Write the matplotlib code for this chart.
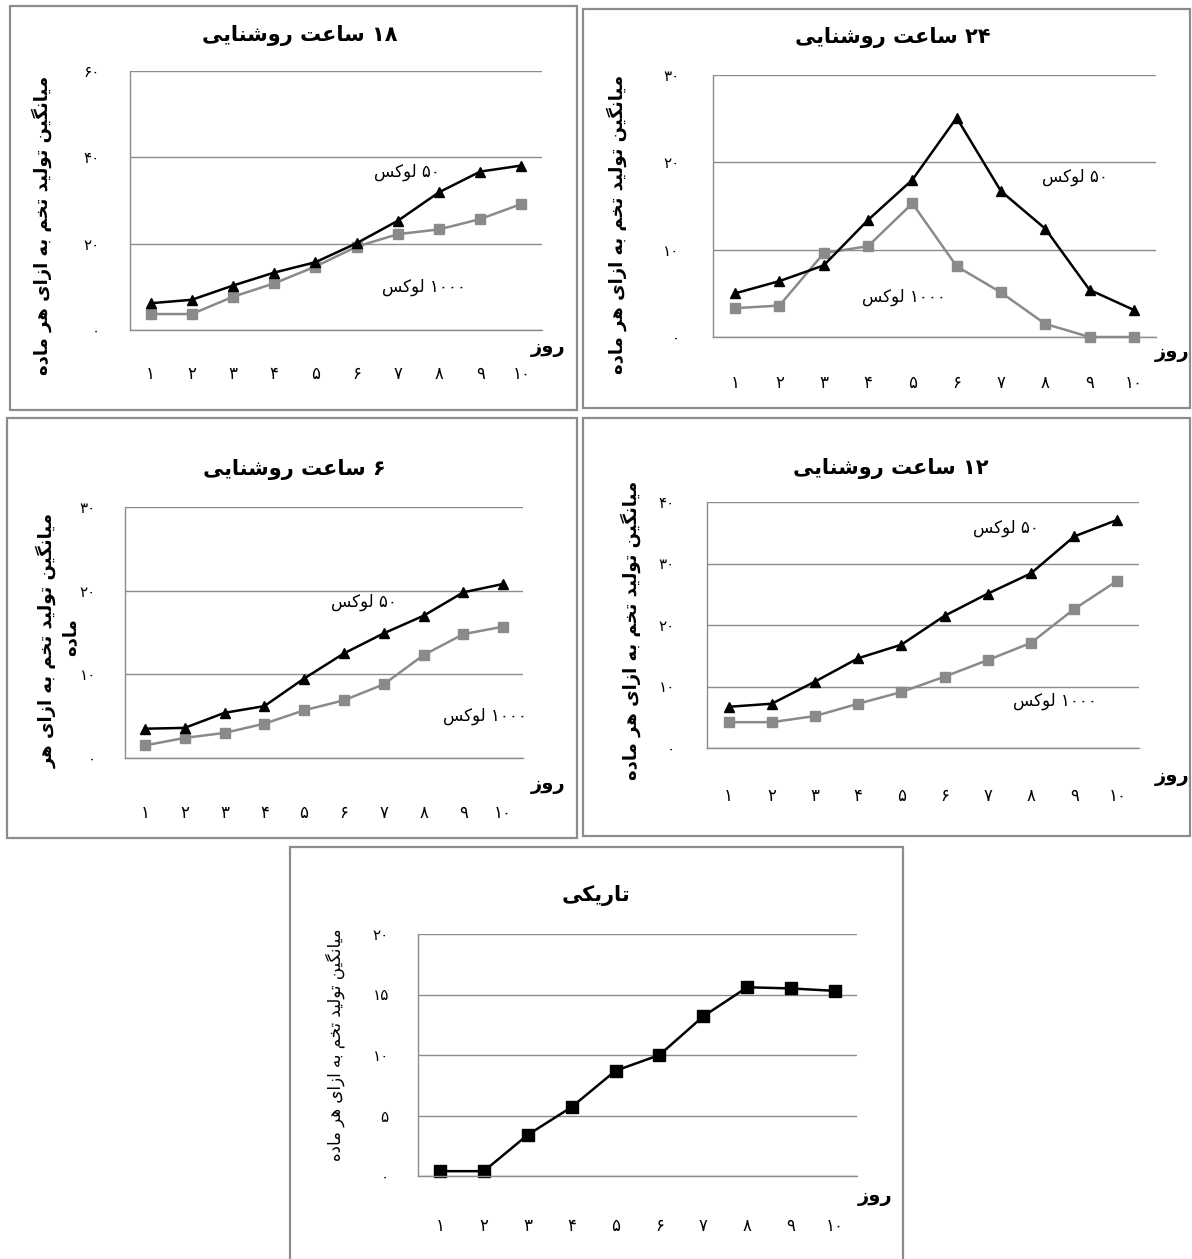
import matplotlib
matplotlib.use("Agg")
import matplotlib.pyplot as plt
from matplotlib.patches import Rectangle

plt.rcParams['font.family'] = ['DejaVu Sans']

# data
days = [1, 2, 3, 4, 5, 6, 7, 8, 9, 10]
day_labels = ['۱', '۲', '۳', '۴', '۵', '۶', '۷', '۸', '۹', '۱۰']

h18_50 = [6.2, 7.0, 10.3, 13.3, 15.7, 20.1, 25.3, 31.9, 36.7, 38.1]
h18_1000 = [3.7, 3.7, 7.7, 10.8, 14.7, 19.3, 22.2, 23.3, 25.7, 29.2]
h24_50 = [5.0, 6.4, 8.2, 13.4, 18.0, 25.1, 16.7, 12.4, 5.4, 3.1]
h24_1000 = [3.3, 3.6, 9.6, 10.4, 15.3, 8.1, 5.1, 1.5, 0.0, 0.0]
h6_50 = [3.5, 3.6, 5.4, 6.2, 9.5, 12.5, 14.9, 17.0, 19.8, 20.8]
h6_1000 = [1.5, 2.4, 3.0, 4.1, 5.7, 6.9, 8.8, 12.3, 14.8, 15.7]
h12_50 = [6.7, 7.2, 10.8, 14.6, 16.8, 21.5, 25.1, 28.4, 34.4, 37.1]
h12_1000 = [4.2, 4.2, 5.2, 7.2, 9.1, 11.6, 14.3, 17.1, 22.6, 27.2]
dark = [0.4, 0.4, 3.4, 5.7, 8.7, 10.0, 13.2, 15.6, 15.5, 15.3]

ylabel = 'میانگین تولید تخم به ازای هر ماده'
xlabel = 'روز'
lux50 = '۵۰ لوکس'
lux1000 = '۱۰۰۰ لوکس'

# --- tiny arabic shaper (matplotlib has no shaping / bidi) ---
# isolated, final, initial, medial
FORMS = {
    'ا': ('\uFE8D', '\uFE8E', None, None),
    'ب': ('\uFE8F', '\uFE90', '\uFE91', '\uFE92'),
    'ت': ('\uFE95', '\uFE96', '\uFE97', '\uFE98'),
    'خ': ('\uFEA5', '\uFEA6', '\uFEA7', '\uFEA8'),
    'د': ('\uFEA9', '\uFEAA', None, None),
    'ر': ('\uFEAD', '\uFEAE', None, None),
    'ز': ('\uFEAF', '\uFEB0', None, None),
    'س': ('\uFEB1', '\uFEB2', '\uFEB3', '\uFEB4'),
    'ش': ('\uFEB5', '\uFEB6', '\uFEB7', '\uFEB8'),
    'ع': ('\uFEC9', '\uFECA', '\uFECB', '\uFECC'),
    'ل': ('\uFEDD', '\uFEDE', '\uFEDF', '\uFEE0'),
    'م': ('\uFEE1', '\uFEE2', '\uFEE3', '\uFEE4'),
    'ن': ('\uFEE5', '\uFEE6', '\uFEE7', '\uFEE8'),
    'ه': ('\uFEE9', '\uFEEA', '\uFEEB', '\uFEEC'),
    'و': ('\uFEED', '\uFEEE', None, None),
    'ی': ('\uFEEF', '\uFEF0', '\uFEF3', '\uFEF4'),
    'ک': ('\uFB8E', '\uFB8F', '\uFB90', '\uFB91'),
    'گ': ('\uFB92', '\uFB93', '\uFB94', '\uFB95'),
}


def shape_word(w):
    out = []
    for i, c in enumerate(w):
        if c not in FORMS:
            out.append(c)
            continue
        prev = w[i - 1] if i > 0 else None
        nxt = w[i + 1] if i + 1 < len(w) else None
        jp = prev in FORMS and FORMS[prev][2] is not None
        jn = FORMS[c][2] is not None and nxt in FORMS
        f = FORMS[c]
        if jp and jn:
            out.append(f[3])
        elif jp:
            out.append(f[1])
        elif jn:
            out.append(f[2])
        else:
            out.append(f[0])
    return ''.join(reversed(out))


def fa(text):
    toks = []
    for t in text.split(' '):
        if any(c in FORMS for c in t):
            toks.append(shape_word(t))
        else:
            toks.append(t)
    return ' '.join(reversed(toks))


def pdigits(v):
    return str(v).translate(str.maketrans('0123456789', '۰۱۲۳۴۵۶۷۸۹'))


W, H = 1192, 1259
fig = plt.figure(figsize=(W / 100, H / 100), dpi=100)


def fx(x):
    return x / W


def fy(y):
    return 1 - y / H


def frame(x0, y0, x1, y1):
    fig.add_artist(Rectangle((fx(x0), fy(y1)), fx(x1) - fx(x0), fy(y0) - fy(y1),
                             transform=fig.transFigure, fill=False,
                             edgecolor='#8c8c8c', linewidth=1.6))


def panel(box, title, title_xy, ylim, yticks, xpad, ypad, xlab_xy, ylab_xy,
          ylab_bold=True, ylab_size=13):
    x0, y0, x1, y1 = box
    ax = fig.add_axes([fx(x0), fy(y1), fx(x1) - fx(x0), fy(y0) - fy(y1)])
    ax.set_xlim(0.5, 10.5)
    ax.set_ylim(*ylim)
    ax.set_xticks(days)
    ax.set_xticklabels(day_labels, fontsize=12)
    ax.set_yticks(yticks)
    ax.set_yticklabels([pdigits(v) for v in yticks], fontsize=11)
    ax.tick_params(axis='x', length=0, pad=xpad)
    ax.tick_params(axis='y', length=0, pad=ypad)
    for s in ['top', 'right']:
        ax.spines[s].set_visible(False)
    for s in ['left', 'bottom']:
        ax.spines[s].set_color('#8c8c8c')
        ax.spines[s].set_linewidth(1.0)
    ax.grid(axis='y', color='#8c8c8c', linewidth=1.0)
    ax.set_axisbelow(True)
    ax.patch.set_alpha(0)
    fig.text(fx(title_xy[0]), fy(title_xy[1]), fa(title), ha='center', va='center',
             fontsize=15, fontweight='bold')
    fig.text(fx(xlab_xy[0]), fy(xlab_xy[1]), fa(xlabel), ha='center', va='center',
             fontsize=14, fontweight='bold')
    if ylab_xy is not None:
        fig.text(fx(ylab_xy[0]), fy(ylab_xy[1]), fa(ylabel), ha='center', va='center',
                 rotation=90, fontsize=ylab_size,
                 fontweight='bold' if ylab_bold else 'normal')
    return ax


def two_series(ax, s50, s1000, p50, p1000):
    ax.plot(days, s1000, color='#8a8a8a', linewidth=1.8, marker='s', markersize=7,
            markerfacecolor='#8a8a8a', markeredgecolor='#8a8a8a', clip_on=False)
    ax.plot(days, s50, color='black', linewidth=1.8, marker='^', markersize=7,
            clip_on=False)
    ax.text(p50[0], p50[1], fa(lux50), ha='center', va='center', fontsize=12)
    ax.text(p1000[0], p1000[1], fa(lux1000), ha='center', va='center', fontsize=12)


# frames
frame(10, 6, 577, 410)
frame(583, 9, 1190, 408)
frame(7, 418, 577, 838)
frame(583, 418, 1190, 836)
frame(290, 847, 903, 1262)

# 18 h
ax = panel((130, 71, 542, 330), '۱۸ ساعت روشنایی', (300, 35), (0, 60), [0, 20, 40, 60],
           25, 21.5, (548, 347), (42, 225))
two_series(ax, h18_50, h18_1000, (7.22, 36.6), (7.63, 10.0))

# 24 h
ax = panel((713, 75, 1156, 337), '۲۴ ساعت روشنایی', (893, 37), (0, 30), [0, 10, 20, 30],
           27, 24, (1172, 353), (617, 224))
two_series(ax, h24_50, h24_1000, (8.67, 18.3), (4.81, 4.6))

# 6 h
ax = panel((125, 507, 523, 758), '۶ ساعت روشنایی', (294, 470), (0, 30), [0, 10, 20, 30],
           33, 21, (548, 785), None)
two_series(ax, h6_50, h6_1000, (6.5, 18.6), (9.55, 5.0))
fig.text(fx(46), fy(640), fa('میانگین تولید تخم به ازای هر'), ha='center', va='center',
         rotation=90, fontsize=13, fontweight='bold')
fig.text(fx(70), fy(637), fa('ماده'), ha='center', va='center',
         rotation=90, fontsize=13, fontweight='bold')

# 12 h
ax = panel((707, 502, 1139, 748), '۱۲ ساعت روشنایی', (891, 468), (0, 40), [0, 10, 20, 30, 40],
           28, 23, (1172, 777), (631, 630))
two_series(ax, h12_50, h12_1000, (7.41, 35.8), (8.55, 7.6))

# darkness
ax = panel((418, 934, 857, 1176), 'تاریکی', (596, 895), (0, 20), [0, 5, 10, 15, 20],
           29.5, 21, (875, 1197), (335, 1045), ylab_bold=False, ylab_size=12)
ax.plot(days, dark, color='black', linewidth=1.8, marker='s', markersize=9, clip_on=False)

fig.savefig('out.png', dpi=100, facecolor='white')
